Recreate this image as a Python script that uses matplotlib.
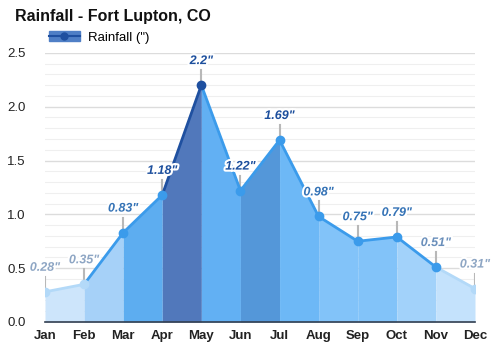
import numpy as np
import matplotlib.pyplot as plt
import matplotlib.patheffects as pe
from matplotlib.lines import Line2D
from matplotlib.patches import Patch

plt.rcParams['font.family'] = ['Liberation Sans', 'DejaVu Sans']

months = ['Jan', 'Feb', 'Mar', 'Apr', 'May', 'Jun',
          'Jul', 'Aug', 'Sep', 'Oct', 'Nov', 'Dec']
rain = [0.28, 0.35, 0.83, 1.18, 2.2, 1.22, 1.69, 0.98, 0.75, 0.79, 0.51, 0.31]

# shade of each month-to-month band
seg_colors = ['#cde5fb', '#a6d1f8', '#5dadf0', '#5178bb', '#62b0f3', '#5497d9',
              '#6db8f6', '#82c3f9', '#82c3f9', '#a2d2fa', '#c4e2fc']

def line_color(v):
    if v >= 2.0:
        return '#1f50a0'
    if v >= 0.45:
        return '#3b9beb'
    return '#b3d9f8'

def label_color(v):
    if v >= 1.1:
        return '#1d4f9d'
    if v >= 0.7:
        return '#3573b6'
    if v >= 0.45:
        return '#6a8fbb'
    return '#8ea6c4'

fig = plt.figure(figsize=(5, 3.5), dpi=100)
ax = fig.add_axes([0.09, 0.08, 0.86, 0.769])

x = np.arange(len(months))
for i in range(len(months) - 1):
    ax.fill_between(x[i:i + 2], rain[i:i + 2], 0, color=seg_colors[i],
                    lw=0, zorder=2)
    ax.plot(x[i:i + 2], rain[i:i + 2], color=line_color(rain[i + 1]),
            lw=2, solid_capstyle='round', zorder=4)

for i, v in enumerate(rain):
    ax.plot(x[i], v, 'o', ms=6, color=line_color(v), zorder=5)
    ax.plot([x[i], x[i]], [v, v + 0.14], color='#b8b8b8', lw=1.5, zorder=3)
    ax.annotate(f'{v:g}"', (x[i], v), xytext=(0, 13), textcoords='offset points',
                ha='center', va='bottom', fontsize=9, fontweight='bold',
                style='italic', color=label_color(v), zorder=6,
                path_effects=[pe.withStroke(linewidth=3, foreground='white')])

ax.set_xlim(0, 11)
ax.set_ylim(0, 2.5)
ax.set_yticks(np.arange(0, 2.51, 0.5))
ax.set_yticks(np.arange(0, 2.51, 0.1), minor=True)
ax.set_yticklabels([f'{t:.1f}' for t in np.arange(0, 2.51, 0.5)])
ax.set_xticks(x)
ax.set_xticklabels(months, fontweight='bold')
ax.grid(axis='y', which='major', color='#dcdcdc', lw=1, zorder=0)
ax.grid(axis='y', which='minor', color='#efefef', lw=0.8, zorder=0)
ax.set_axisbelow(True)
ax.tick_params(axis='both', which='both', length=0, labelsize=9.5,
               colors='#222222')
ax.tick_params(axis='y', pad=14)
ax.tick_params(axis='x', pad=6)
for s in ['top', 'right', 'left']:
    ax.spines[s].set_visible(False)
ax.spines['bottom'].set_color('#333f50')
ax.spines['bottom'].set_linewidth(1.2)
ax.spines['bottom'].set_zorder(7)

fig.text(0.03, 0.952, 'Rainfall - Fort Lupton, CO', fontsize=11.5,
         fontweight='bold', va='center', color='#111111')
handle = (Patch(color='#4f7fc6'),
          Line2D([], [], color='#1f50a0', marker='o', ms=5, lw=1.5))
fig.legend([handle], ['Rainfall (")'], loc='center left',
           bbox_to_anchor=(0.088, 0.893), frameon=False, fontsize=9.5,
           handlelength=2.3, handletextpad=0.6, borderaxespad=0)

fig.savefig('out.png', dpi=100)
